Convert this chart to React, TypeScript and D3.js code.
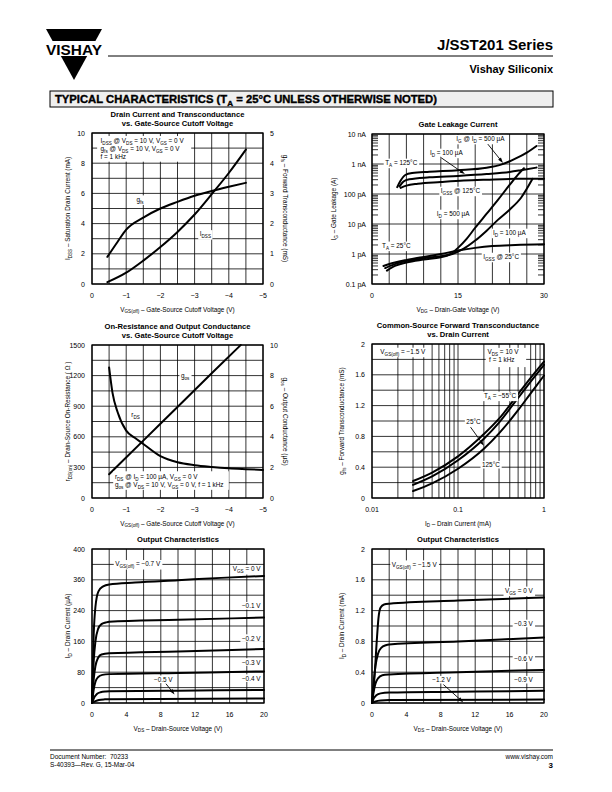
import React, { useRef, useEffect } from 'react';
import * as d3 from 'd3';

type Pt = [number, number];
type Sel = d3.Selection<any, unknown, null, undefined>;
interface Box { left: number; top: number; width: number; height: number; }

const FONT = '"Liberation Sans", Arial, Helvetica, sans-serif';

// ---- Drain Current and Transconductance vs. Gate-Source Cutoff Voltage ----
const cutoffTicks = [0, -1, -2, -3, -4, -5];
const idssTicks = [0, 2, 4, 6, 8, 10];
const gfsTicks = [0, 1, 2, 3, 4, 5];
const idssVsCutoff: Pt[] = [[-0.45, 0.12], [-1, 0.75], [-1.5, 1.55], [-2, 2.45], [-2.5, 3.45], [-3, 4.6], [-3.5, 5.95], [-4, 7.35], [-4.5, 8.9]];
const gfsVsCutoff: Pt[] = [[-0.45, 0.9], [-0.75, 1.4], [-1, 1.8], [-1.5, 2.2], [-2, 2.5], [-2.5, 2.72], [-3, 2.92], [-3.5, 3.08], [-4, 3.22], [-4.5, 3.35]];

// ---- Gate Leakage Current ----
const vdgTicks = [0, 15, 30];
const leakTicks: [number, string][] = [[1e-13, '0.1 pA'], [1e-12, '1 pA'], [1e-11, '10 pA'], [1e-10, '100 pA'], [1e-9, '1 nA'], [1e-8, '10 nA']];
const igAt500uA125: Pt[] = [[4.4, 1.7e-10], [5, 2.8e-10], [5.8, 4.3e-10], [7, 5.0e-10], [10, 5.5e-10], [15, 6.2e-10], [20, 7.5e-10], [22.5, 9.5e-10], [25, 1.5e-9], [27, 2.4e-9], [28.7, 4.0e-9]];
const igAt100uA125: Pt[] = [[4.8, 1.8e-10], [5.5, 2.6e-10], [6.5, 3.1e-10], [10, 3.6e-10], [15, 4.0e-10], [20, 4.6e-10], [24, 5.4e-10], [26, 6.2e-10], [28.7, 7.6e-10]];
const igss125: Pt[] = [[5, 1.6e-10], [6, 1.9e-10], [8, 2.2e-10], [12, 2.5e-10], [16, 2.8e-10], [20, 3.0e-10], [25, 3.2e-10], [30, 3.2e-10]];
const igss25: Pt[] = [[2, 4.0e-13], [4, 5.2e-13], [6, 6.3e-13], [9, 8e-13], [12, 1.0e-12], [15, 1.3e-12], [18, 1.6e-12], [21, 1.85e-12], [25, 2.0e-12], [30, 2.1e-12]];
const igAt100uA25: Pt[] = [[2.3, 3.4e-13], [4, 4.6e-13], [6, 5.8e-13], [9, 7.2e-13], [12, 8.5e-13], [14, 1.0e-12], [16, 1.5e-12], [18, 2.8e-12], [20, 6e-12], [22, 1.4e-11], [24, 3.0e-11], [26, 7.5e-11], [28, 3.2e-10]];
const igAt500uA25: Pt[] = [[2.6, 2.8e-13], [4, 4.0e-13], [6, 5.2e-13], [9, 6.5e-13], [12, 7.8e-13], [13.5, 9.5e-13], [15, 1.6e-12], [16.5, 3.2e-12], [18, 7.5e-12], [20, 2.2e-11], [22, 6.5e-11], [24, 2.0e-10], [25.5, 4.5e-10], [26.5, 7.2e-10]];

// ---- On-Resistance and Output Conductance ----
const rdsTicks = [0, 300, 600, 900, 1200, 1500];
const gosTicks = [0, 2, 4, 6, 8, 10];
const rdsVsCutoff: Pt[] = [[-0.5, 1280], [-0.6, 1030], [-0.75, 840], [-1, 660], [-1.25, 590], [-1.5, 530], [-2, 410], [-2.5, 350], [-3, 322], [-3.5, 305], [-4, 292], [-4.5, 283], [-5, 275]];
const gosVsCutoff: Pt[] = [[-0.5, 1.55], [-1.5, 3.75], [-2.5, 5.95], [-3.5, 8.15], [-4.35, 10]];

// ---- Common-Source Forward Transconductance vs. Drain Current ----
const idLogTicks: [number, string][] = [[0.01, '0.01'], [0.1, '0.1'], [1, '1']];
const gfsIdTicks = [0, 0.4, 0.8, 1.2, 1.6, 2];
const gfsM55: Pt[] = [[0.03, 0.22], [0.05, 0.33], [0.1, 0.54], [0.2, 0.83], [0.3, 1.03], [0.5, 1.35], [0.7, 1.56], [1, 1.77]];
const gfs25: Pt[] = [[0.03, 0.17], [0.05, 0.28], [0.1, 0.49], [0.2, 0.77], [0.3, 0.98], [0.5, 1.3], [0.7, 1.51], [1, 1.73]];
const gfs125: Pt[] = [[0.03, 0.09], [0.05, 0.19], [0.1, 0.38], [0.2, 0.64], [0.3, 0.84], [0.5, 1.14], [0.7, 1.36], [1, 1.59]];

// ---- Output Characteristics, VGS(off) = -0.7 V ----
const vdsTicks = [0, 4, 8, 12, 16, 20];
const idUaTicks: [number, string][] = [[0, '0'], [80, '80'], [160, '160'], [240, '240'], [320, '360'], [400, '400']];
const out07Vgs0: Pt[] = [[0, 0], [0.2, 180], [0.4, 250], [0.75, 290], [1.3, 303], [2, 308], [5, 313], [10, 319], [15, 325], [20, 330]];
const out07Vgs01: Pt[] = [[0, 0], [0.2, 110], [0.4, 160], [0.7, 192], [1.1, 205], [1.6, 209], [2, 211], [10, 216], [20, 222]];
const out07Vgs02: Pt[] = [[0, 0], [0.2, 62], [0.4, 96], [0.7, 117], [1.1, 126], [2, 129], [10, 134], [20, 140]];
const out07Vgs03: Pt[] = [[0, 0], [0.2, 35], [0.4, 55], [0.7, 67], [1.2, 73], [2, 75], [10, 78], [20, 82]];
const out07Vgs04: Pt[] = [[0, 0], [0.3, 16], [0.6, 24], [1, 28], [1.6, 30], [2, 30.5], [10, 32], [20, 34]];
const out07Vgs05: Pt[] = [[0, 0], [0.4, 5], [0.8, 8], [1.5, 9.5], [2, 10], [20, 12]];

// ---- Output Characteristics, VGS(off) = -1.5 V ----
const idMaTicks = [0, 0.4, 0.8, 1.2, 1.6, 2];
const out15Vgs0: Pt[] = [[0, 0], [0.3, 0.35], [0.55, 0.8], [0.75, 1.1], [1, 1.24], [1.4, 1.28], [2, 1.29], [10, 1.33], [20, 1.37]];
const out15Vgs03: Pt[] = [[0, 0], [0.2, 0.28], [0.4, 0.48], [0.7, 0.64], [1.1, 0.72], [1.6, 0.75], [2, 0.76], [10, 0.8], [20, 0.85]];
const out15Vgs06: Pt[] = [[0, 0], [0.2, 0.15], [0.4, 0.25], [0.7, 0.32], [1.2, 0.36], [2, 0.37], [10, 0.4], [20, 0.43]];
const out15Vgs09: Pt[] = [[0, 0], [0.2, 0.06], [0.5, 0.1], [1, 0.125], [2, 0.135], [10, 0.145], [20, 0.16]];
const out15Vgs12: Pt[] = [[0, 0], [0.4, 0.02], [1, 0.033], [2, 0.038], [20, 0.045]];

const TICK = 7;
const LBL = 6.4;
const TTL = 7.6;

const neg = (v: number) => (v === 0 ? '0' : '\u2212' + Math.abs(v));

function rich(parent: Sel, x: number, y: number, str: string, size: number, anchor = 'start', weight: string | number = 'normal') {
  const t = parent.append('text')
    .attr('x', x)
    .attr('y', y)
    .attr('font-size', size)
    .attr('font-family', FONT)
    .attr('font-weight', weight)
    .attr('text-anchor', anchor)
    .attr('fill', '#000')
    .style('white-space', 'pre');
  const shift = size * 0.3;
  let low = false;
  str.split(/(_\{[^}]*\})/).filter(s => s.length > 0).forEach(part => {
    const m = part.match(/^_\{(.*)\}$/);
    if (m) {
      t.append('tspan').attr('font-size', size * 0.72).attr('dy', low ? 0 : shift).text(m[1]);
      low = true;
    } else {
      t.append('tspan').attr('dy', low ? -shift : 0).text(part);
      low = false;
    }
  });
  return t;
}

function boxed(parent: Sel, x: number, y: number, str: string, size = LBL, anchor = 'start') {
  const t = rich(parent, x, y, str, size, anchor);
  const bb = (t.node() as SVGTextElement).getBBox();
  parent.insert('rect', () => t.node())
    .attr('x', bb.x - 1.5)
    .attr('y', bb.y - 0.3)
    .attr('width', bb.width + 3)
    .attr('height', bb.height + 0.6)
    .attr('fill', '#fff');
  return t;
}

function arrow(g: Sel, x1: number, y1: number, x2: number, y2: number) {
  const a = Math.atan2(y2 - y1, x2 - x1);
  const L = 5.5, W = 1.8;
  g.append('line')
    .attr('x1', x1).attr('y1', y1)
    .attr('x2', x2 - Math.cos(a) * L * 0.6).attr('y2', y2 - Math.sin(a) * L * 0.6)
    .attr('stroke', '#000').attr('stroke-width', 0.9);
  const bx = x2 - Math.cos(a) * L, by = y2 - Math.sin(a) * L;
  g.append('polygon')
    .attr('points', `${x2},${y2} ${bx - Math.sin(a) * W},${by + Math.cos(a) * W} ${bx + Math.sin(a) * W},${by - Math.cos(a) * W}`)
    .attr('fill', '#000');
}

function grid(g: Sel, b: Box, xs: number[], ys: number[], w = 0.8) {
  xs.forEach(x => g.append('line').attr('x1', x).attr('x2', x).attr('y1', b.top).attr('y2', b.top + b.height)
    .attr('stroke', '#000').attr('stroke-width', w));
  ys.forEach(y => g.append('line').attr('x1', b.left).attr('x2', b.left + b.width).attr('y1', y).attr('y2', y)
    .attr('stroke', '#000').attr('stroke-width', w));
}

function frame(g: Sel, b: Box) {
  g.append('rect').attr('x', b.left).attr('y', b.top).attr('width', b.width).attr('height', b.height)
    .attr('fill', 'none').attr('stroke', '#000').attr('stroke-width', 1.3);
}

function curve(g: Sel, data: Pt[], xs: (v: number) => number, ys: (v: number) => number) {
  const line = d3.line<Pt>().x(d => xs(d[0])).y(d => ys(d[1])).curve(d3.curveMonotoneX);
  g.append('path').datum(data).attr('d', line).attr('fill', 'none').attr('stroke', '#000')
    .attr('stroke-width', 2).attr('stroke-linejoin', 'round').attr('stroke-linecap', 'round');
}

function bottomTicks(g: Sel, b: Box, ticks: [number, string][]) {
  ticks.forEach(([x, s]) => rich(g, x, b.top + b.height + 13.5, s, TICK, 'middle'));
}
function leftTicks(g: Sel, b: Box, ticks: [number, string][]) {
  ticks.forEach(([y, s]) => rich(g, b.left - 7, y + 2.5, s, TICK, 'end'));
}
function rightTicks(g: Sel, b: Box, ticks: [number, string][]) {
  ticks.forEach(([y, s]) => rich(g, b.left + b.width + 7, y + 2.5, s, TICK, 'start'));
}
function title(g: Sel, b: Box, lines: string[]) {
  const cx = b.left + b.width / 2;
  lines.forEach((s, i) => rich(g, cx, b.top - 7 - (lines.length - 1 - i) * 9.5, s, TTL, 'middle', 'bold'));
}
function xLabel(g: Sel, b: Box, s: string) {
  rich(g, b.left + b.width / 2, b.top + b.height + 27.5, s, LBL, 'middle');
}
function yLabel(g: Sel, x: number, b: Box, s: string, rot = -90) {
  const h = g.append('g').attr('transform', `translate(${x},${b.top + b.height / 2}) rotate(${rot})`);
  rich(h, 0, 2, s, LBL, 'middle');
}

export default function App() {
  const svgRef = useRef<SVGSVGElement>(null);

  useEffect(() => {
    if (!svgRef.current) return;
    const svg = d3.select(svgRef.current);
    svg.selectAll('*').remove();

    svg.append('rect').attr('width', 612).attr('height', 792).attr('fill', '#fff');

    // Header
    const head = svg.append('g');
    head.append('path').attr('d', 'M46,29 L102,29 L74,80 Z').attr('fill', '#000');
    head.append('rect').attr('x', 44).attr('y', 41).attr('width', 62).attr('height', 15).attr('fill', '#fff');
    head.append('text').attr('x', 46).attr('y', 55).attr('font-size', 15).attr('font-weight', 'bold')
      .attr('font-family', FONT).attr('textLength', 56).attr('lengthAdjust', 'spacingAndGlyphs').text('VISHAY');
    head.append('line').attr('x1', 108).attr('x2', 553).attr('y1', 56).attr('y2', 56).attr('stroke', '#000').attr('stroke-width', 1);
    rich(head, 553, 50, 'J/SST201 Series', 15, 'end', 'bold');
    rich(head, 553, 73, 'Vishay Siliconix', 11, 'end', 'bold');
    head.append('rect').attr('x', 50).attr('y', 91).attr('width', 503).attr('height', 16)
      .attr('fill', '#efefef').attr('stroke', '#000').attr('stroke-width', 1);
    rich(head, 55, 103, 'TYPICAL CHARACTERISTICS (T_{A} = 25\u00b0C UNLESS OTHERWISE NOTED)', 10, 'start', 900)
      .attr('textLength', 382).attr('lengthAdjust', 'spacingAndGlyphs')
      .attr('stroke', '#000').attr('stroke-width', 0.35);

    // Footer
    const foot = svg.append('g');
    foot.append('line').attr('x1', 50).attr('x2', 553).attr('y1', 750).attr('y2', 750).attr('stroke', '#000').attr('stroke-width', 1);
    rich(foot, 50, 759, 'Document Number:  70233', 6.5);
    rich(foot, 50, 767, 'S-40393\u2014Rev. G, 15-Mar-04', 6.5);
    rich(foot, 553, 759, 'www.vishay.com', 6.5, 'end');
    rich(foot, 553, 768, '3', 8, 'end', 'bold');

    // ---- Chart 1 ----
    const b1: Box = { left: 92, top: 133, width: 171, height: 151 };
    const x1 = d3.scaleLinear().domain([0, -5]).range([b1.left, b1.left + b1.width]);
    const y1 = d3.scaleLinear().domain([0, 10]).range([b1.top + b1.height, b1.top]);
    const y1r = d3.scaleLinear().domain([0, 5]).range([b1.top + b1.height, b1.top]);
    const g1 = svg.append('g');
    grid(g1, b1, d3.range(0, -5.01, -0.5).map(x1), d3.range(0, 10.01, 1).map(y1));
    curve(g1, idssVsCutoff, x1, y1);
    curve(g1, gfsVsCutoff, x1, y1r);
    g1.append('rect').attr('x', x1(-0.15)).attr('y', y1(9.8)).attr('width', x1(-2.9) - x1(-0.15)).attr('height', y1(8.1) - y1(9.8)).attr('fill', '#fff');
    rich(g1, x1(-0.25), y1(9.35), 'I_{DSS} @ V_{DS} = 10 V, V_{GS} = 0 V', LBL);
    rich(g1, x1(-0.25), y1(8.82), 'g_{fs} @ V_{DS} = 10 V, V_{GS} = 0 V', LBL);
    rich(g1, x1(-0.25), y1(8.3), 'f = 1 kHz', LBL);
    boxed(g1, x1(-1.3), y1(5.45), 'g_{fs}');
    boxed(g1, x1(-3.15), y1(3.15), 'I_{DSS}');
    frame(g1, b1);
    bottomTicks(g1, b1, cutoffTicks.map(v => [x1(v), neg(v)] as [number, string]));
    leftTicks(g1, b1, idssTicks.map(v => [y1(v), String(v)] as [number, string]));
    rightTicks(g1, b1, gfsTicks.map(v => [y1r(v), String(v)] as [number, string]));
    title(g1, b1, ['Drain Current and Transconductance', 'vs. Gate-Source Cutoff Voltage']);
    yLabel(g1, 68, b1, 'I_{DSS} \u2013 Saturation Drain Current (mA)');
    yLabel(g1, 285, b1, 'g_{fs} \u2013 Forward Transconductance (mS)', 90);
    xLabel(g1, b1, 'V_{GS(off)} \u2013 Gate-Source Cutoff Voltage (V)');

    // ---- Chart 2 ----
    const b2: Box = { left: 372, top: 134, width: 172, height: 150 };
    const x2 = d3.scaleLinear().domain([0, 30]).range([b2.left, b2.left + b2.width]);
    const y2 = d3.scaleLog().domain([1e-13, 1e-8]).range([b2.top + b2.height, b2.top]);
    const g2 = svg.append('g');
    grid(g2, b2, d3.range(0, 30.1, 3).map(x2), leakTicks.map(d => y2(d[0])));
    leakTicks.slice(0, -1).forEach(([dec]) => {
      d3.range(2, 10).forEach(k => {
        const y = y2(k * dec);
        g2.append('line').attr('x1', b2.left).attr('x2', b2.left + 6).attr('y1', y).attr('y2', y).attr('stroke', '#000').attr('stroke-width', 0.8);
        g2.append('line').attr('x1', b2.left + b2.width - 6).attr('x2', b2.left + b2.width).attr('y1', y).attr('y2', y).attr('stroke', '#000').attr('stroke-width', 0.8);
      });
    });
    [igAt500uA125, igAt100uA125, igss125, igss25, igAt100uA25, igAt500uA25].forEach(c => curve(g2, c, x2, y2));
    boxed(g2, x2(14.7), y2(5.8e-9), 'I_{G} @ I_{D} = 500 \u00b5A');
    boxed(g2, x2(10.1), y2(2.0e-9), 'I_{D} = 100 \u00b5A');
    boxed(g2, x2(2.3), y2(9.3e-10), 'T_{A} = 125\u00b0C');
    boxed(g2, x2(12), y2(1.08e-10), 'I_{GSS} @ 125\u00b0C');
    boxed(g2, x2(11.3), y2(1.85e-11), 'I_{D} = 500 \u00b5A');
    boxed(g2, x2(1.75), y2(1.6e-12), 'T_{A} = 25\u00b0C');
    boxed(g2, x2(21.1), y2(4.3e-12), 'I_{D} = 100 \u00b5A');
    boxed(g2, x2(19.4), y2(6.8e-13), 'I_{GSS} @ 25\u00b0C');
    arrow(g2, x2(20.2), y2(4.6e-9), x2(22.85), y2(1.08e-9));
    arrow(g2, x2(11.9), y2(1.7e-9), x2(16.2), y2(4.6e-10));
    frame(g2, b2);
    bottomTicks(g2, b2, vdgTicks.map(v => [x2(v), String(v)] as [number, string]));
    leakTicks.forEach(([v, s]) => rich(g2, b2.left - 6, y2(v) + 2.5, s, TICK, 'end'));
    title(g2, b2, ['Gate Leakage Current']);
    yLabel(g2, 334, b2, 'I_{G} \u2013 Gate Leakage (A)');
    xLabel(g2, b2, 'V_{DG} \u2013 Drain-Gate Voltage (V)');

    // ---- Chart 3 ----
    const b3: Box = { left: 92, top: 345, width: 171, height: 153 };
    const x3 = d3.scaleLinear().domain([0, -5]).range([b3.left, b3.left + b3.width]);
    const y3 = d3.scaleLinear().domain([0, 1500]).range([b3.top + b3.height, b3.top]);
    const y3r = d3.scaleLinear().domain([0, 10]).range([b3.top + b3.height, b3.top]);
    const g3 = svg.append('g');
    grid(g3, b3, d3.range(0, -5.01, -0.5).map(x3), d3.range(0, 1501, 150).map(y3));
    curve(g3, rdsVsCutoff, x3, y3);
    curve(g3, gosVsCutoff, x3, y3r);
    g3.append('rect').attr('x', x3(-0.62)).attr('y', y3(262)).attr('width', x3(-4.0) - x3(-0.62)).attr('height', y3(80) - y3(262)).attr('fill', '#fff');
    rich(g3, x3(-0.67), y3(185), 'r_{DS} @ I_{D} = 100 \u00b5A, V_{GS} = 0 V', LBL);
    rich(g3, x3(-0.67), y3(108), 'g_{os} @ V_{DS} = 10 V, V_{GS} = 0 V, f = 1 kHz', LBL);
    boxed(g3, x3(-2.6), y3(1180), 'g_{os}');
    boxed(g3, x3(-1.15), y3(790), 'r_{DS}');
    frame(g3, b3);
    bottomTicks(g3, b3, cutoffTicks.map(v => [x3(v), neg(v)] as [number, string]));
    leftTicks(g3, b3, rdsTicks.map(v => [y3(v), String(v)] as [number, string]));
    rightTicks(g3, b3, gosTicks.map(v => [y3r(v), String(v)] as [number, string]));
    title(g3, b3, ['On-Resistance and Output Conductance', 'vs. Gate-Source Cutoff Voltage']);
    yLabel(g3, 68, b3, 'r_{DS(on)} \u2013 Drain-Source On-Resistance ( \u03a9 )');
    yLabel(g3, 285, b3, 'g_{os} \u2013 Output Conductance (\u00b5S)', 90);
    xLabel(g3, b3, 'V_{GS(off)} \u2013 Gate-Source Cutoff Voltage (V)');

    // ---- Chart 4 ----
    const b4: Box = { left: 372, top: 344, width: 172, height: 154 };
    const x4 = d3.scaleLog().domain([0.01, 1]).range([b4.left, b4.left + b4.width]);
    const y4 = d3.scaleLinear().domain([0, 2]).range([b4.top + b4.height, b4.top]);
    const g4 = svg.append('g');
    const minor: number[] = [];
    [0.01, 0.1].forEach(dec => d3.range(1, 10).forEach(k => minor.push(k * dec)));
    minor.push(1);
    grid(g4, b4, minor.map(x4), d3.range(0, 2.01, 0.2).map(y4));
    [gfsM55, gfs25, gfs125].forEach(c => curve(g4, c, x4, y4));
    boxed(g4, x4(0.0125), y4(1.87), 'V_{GS(off)} = \u22121.5 V');
    g4.append('rect').attr('x', x4(0.21)).attr('y', y4(1.95)).attr('width', x4(0.62) - x4(0.21)).attr('height', y4(1.7) - y4(1.95)).attr('fill', '#fff');
    rich(g4, x4(0.22), y4(1.87), 'V_{DS} = 10 V', LBL);
    rich(g4, x4(0.23), y4(1.77), 'f = 1 kHz', LBL);
    boxed(g4, x4(0.2), y4(1.3), 'T_{A} = \u221255\u00b0C');
    boxed(g4, x4(0.125), y4(0.96), '25\u00b0C');
    boxed(g4, x4(0.19), y4(0.4), '125\u00b0C');
    arrow(g4, x4(0.14), y4(0.92), x4(0.2), y4(0.68));
    frame(g4, b4);
    bottomTicks(g4, b4, idLogTicks.map(([v, s]) => [x4(v), s] as [number, string]));
    leftTicks(g4, b4, gfsIdTicks.map(v => [y4(v), String(v)] as [number, string]));
    title(g4, b4, ['Common-Source Forward Transconductance', 'vs. Drain Current']);
    yLabel(g4, 342, b4, 'g_{fs} \u2013 Forward Transconductance (mS)');
    xLabel(g4, b4, 'I_{D} \u2013 Drain Current (mA)');

    // ---- Chart 5 ----
    const b5: Box = { left: 92, top: 549, width: 172, height: 154 };
    const x5 = d3.scaleLinear().domain([0, 20]).range([b5.left, b5.left + b5.width]);
    const y5 = d3.scaleLinear().domain([0, 400]).range([b5.top + b5.height, b5.top]);
    const g5 = svg.append('g');
    grid(g5, b5, d3.range(0, 20.1, 2).map(x5), d3.range(0, 401, 40).map(y5));
    [out07Vgs0, out07Vgs01, out07Vgs02, out07Vgs03, out07Vgs04, out07Vgs05].forEach(c => curve(g5, c, x5, y5));
    boxed(g5, x5(2.7), y5(355), 'V_{GS(off)} = \u22120.7 V');
    boxed(g5, x5(19.6), y5(342), 'V_{GS} = 0 V', LBL, 'end');
    boxed(g5, x5(19.6), y5(246), '\u22120.1 V', LBL, 'end');
    boxed(g5, x5(19.6), y5(162), '\u22120.2 V', LBL, 'end');
    boxed(g5, x5(19.6), y5(100), '\u22120.3 V', LBL, 'end');
    boxed(g5, x5(19.6), y5(58), '\u22120.4 V', LBL, 'end');
    boxed(g5, x5(7.2), y5(55), '\u22120.5 V');
    arrow(g5, x5(8.6), y5(50), x5(9.6), y5(22));
    frame(g5, b5);
    bottomTicks(g5, b5, vdsTicks.map(v => [x5(v), String(v)] as [number, string]));
    leftTicks(g5, b5, idUaTicks.map(([v, s]) => [y5(v), s] as [number, string]));
    title(g5, b5, ['Output Characteristics']);
    yLabel(g5, 68, b5, 'I_{D} \u2013 Drain Current (\u00b5A)');
    xLabel(g5, b5, 'V_{DS} \u2013 Drain-Source Voltage (V)');

    // ---- Chart 6 ----
    const b6: Box = { left: 372, top: 549, width: 172, height: 154 };
    const x6 = d3.scaleLinear().domain([0, 20]).range([b6.left, b6.left + b6.width]);
    const y6 = d3.scaleLinear().domain([0, 2]).range([b6.top + b6.height, b6.top]);
    const g6 = svg.append('g');
    grid(g6, b6, d3.range(0, 20.1, 2).map(x6), d3.range(0, 2.01, 0.2).map(y6));
    [out15Vgs0, out15Vgs03, out15Vgs06, out15Vgs09, out15Vgs12].forEach(c => curve(g6, c, x6, y6));
    boxed(g6, x6(2.3), y6(1.77), 'V_{GS(off)} = \u22121.5 V');
    boxed(g6, x6(18.7), y6(1.43), 'V_{GS} = 0 V', LBL, 'end');
    boxed(g6, x6(18.7), y6(1.0), '\u22120.3 V', LBL, 'end');
    boxed(g6, x6(18.7), y6(0.55), '\u22120.6 V', LBL, 'end');
    boxed(g6, x6(18.7), y6(0.27), '\u22120.9 V', LBL, 'end');
    boxed(g6, x6(7.0), y6(0.27), '\u22121.2 V');
    arrow(g6, x6(8.3), y6(0.24), x6(10.6), y6(0.01));
    frame(g6, b6);
    bottomTicks(g6, b6, vdsTicks.map(v => [x6(v), String(v)] as [number, string]));
    leftTicks(g6, b6, idMaTicks.map(v => [y6(v), String(v)] as [number, string]));
    title(g6, b6, ['Output Characteristics']);
    yLabel(g6, 342, b6, 'I_{D} \u2013 Drain Current (mA)');
    xLabel(g6, b6, 'V_{DS} \u2013 Drain-Source Voltage (V)');
  }, []);

  return (
    <svg
      ref={svgRef}
      width={612}
      height={792}
      style={{ position: 'absolute', left: 0, top: 0, background: '#fff' }}
    />
  );
}
